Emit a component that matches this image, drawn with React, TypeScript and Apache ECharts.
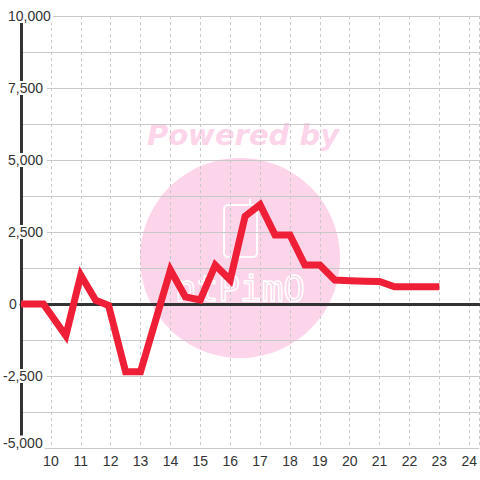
import React, { useEffect, useRef } from "react";
import * as echarts from "echarts";

const times = [9, 9.75, 10.5, 11, 11.5, 11.93, 12.5, 13, 14, 14.5, 15, 15.5, 16, 16.5, 17, 17.5, 18, 18.5, 19, 19.5, 20, 20.5, 21, 21.5, 22, 22.5, 23];
const values = [0, 0, -1100, 1000, 130, -50, -2350, -2350, 1180, 250, 140, 1350, 830, 3050, 3450, 2400, 2400, 1350, 1350, 830, 810, 790, 780, 600, 600, 600, 600];
const yMin = -5000;
const yMax = 10000;
const xMin = 9;
const xMax = 24.333;
const watermarkTitle = "Powered by";
const watermarkLogo = "ntPimO";

const FONT = "'Liberation Sans', Arial, sans-serif";

export default function App() {
  const ref = useRef<HTMLDivElement>(null);
  useEffect(() => {
    if (!ref.current) return;
    const chart = echarts.init(ref.current, undefined, { renderer: "svg" });
    const data = times.map((t, i) => [t, values[i]]);
    const pink = "#fcd5ea";
    const tok = {
      fontSize: 14,
      lineHeight: 14,
      color: "#333",
      fontFamily: FONT,
      backgroundColor: "#fff",
    };
    chart.setOption({
      animation: false,
      grid: { left: 20, right: 0, top: 16, bottom: 32, containLabel: false },
      xAxis: [
        {
          type: "value",
          min: xMin,
          max: xMax,
          interval: 1,
          position: "bottom",
          axisLine: { show: false },
          axisTick: { show: false },
          axisLabel: {
            showMinLabel: false,
            showMaxLabel: false,
            margin: 6,
            fontSize: 14,
            color: "#333",
            fontFamily: FONT,
          },
          splitLine: { show: true, lineStyle: { color: "#c8c8c8", type: [3, 3], width: 1 } },
        },
        {
          type: "value",
          min: xMin,
          max: xMax,
          position: "bottom",
          axisLine: { show: true, onZero: true, lineStyle: { color: "#333", width: 3 } },
          axisTick: { show: false },
          axisLabel: { show: false },
          splitLine: { show: false },
        },
      ],
      yAxis: [
        {
          type: "value",
          min: yMin,
          max: yMax,
          interval: 1250,
          position: "left",
          axisLine: { show: false },
          axisTick: { show: false },
          axisLabel: { show: false },
          splitLine: { show: true, lineStyle: { color: "#c8c8c8", width: 1 } },
        },
        {
          type: "value",
          min: yMin,
          max: yMax,
          interval: 2500,
          position: "left",
          axisLine: { show: true, onZero: false, lineStyle: { color: "#333", width: 3 } },
          axisTick: { show: false },
          splitLine: { show: false },
          axisLabel: {
            align: "left",
            margin: 18,
            fontSize: 14,
            lineHeight: 14,
            color: "#333",
            fontFamily: FONT,
            formatter: (v: number) => {
              const s = v.toLocaleString("en-US");
              if (v <= yMin) return "{b|" + s + "}";
              if (v < 0) return "{n|" + s + "}";
              if (v === 0) return "{z|" + s + "}";
              if (v >= 10000) return "{w|" + s + "}";
              return "{p|" + s + "}";
            },
            rich: {
              b: { ...tok, padding: [0, 2, 11, 0] },
              n: { ...tok, padding: [0, 4, 0, 0] },
              z: { ...tok, padding: [0, 1, 0, 6] },
              p: { ...tok, padding: [0, 4, 0, 5] },
              w: { ...tok, padding: [0, 2, 0, 5] },
            },
          },
        },
      ],
      graphic: [
        {
          type: "circle",
          z: -10,
          silent: true,
          shape: { cx: 240, cy: 258, r: 100 },
          style: { fill: pink },
        },
        {
          type: "text",
          z: -10,
          silent: true,
          x: 243,
          y: 149,
          style: {
            text: watermarkTitle,
            fill: pink,
            font: "italic bold 29px 'DejaVu Sans', sans-serif",
            align: "center",
            verticalAlign: "bottom",
          },
        },
        {
          type: "rect",
          z: -9,
          silent: true,
          shape: { x: 224, y: 205, width: 33, height: 52, r: 4 },
          style: { fill: "none", stroke: "#fff", lineWidth: 2 },
        },
        {
          type: "line",
          z: -9,
          silent: true,
          shape: { x1: 250, y1: 199, x2: 250, y2: 205 },
          style: { stroke: "#fff", lineWidth: 2 },
        },
        {
          type: "text",
          z: -9,
          silent: true,
          x: 240,
          y: 288,
          style: {
            text: watermarkLogo,
            fill: "none",
            stroke: "#fff",
            lineWidth: 1.5,
            font: "36px 'DejaVu Sans Mono', monospace",
            align: "center",
            verticalAlign: "middle",
          },
        },
      ],
      series: [
        {
          type: "line",
          xAxisIndex: 0,
          yAxisIndex: 0,
          data,
          showSymbol: false,
          symbol: "none",
          lineStyle: { color: "#ee1f36", width: 7, join: "miter", cap: "butt" },
          z: 5,
        },
      ],
    });
    return () => chart.dispose();
  }, []);
  return (
    <div
      ref={ref}
      style={{ position: "fixed", left: 0, top: 0, width: 480, height: 480, background: "#fff" }}
    />
  );
}
